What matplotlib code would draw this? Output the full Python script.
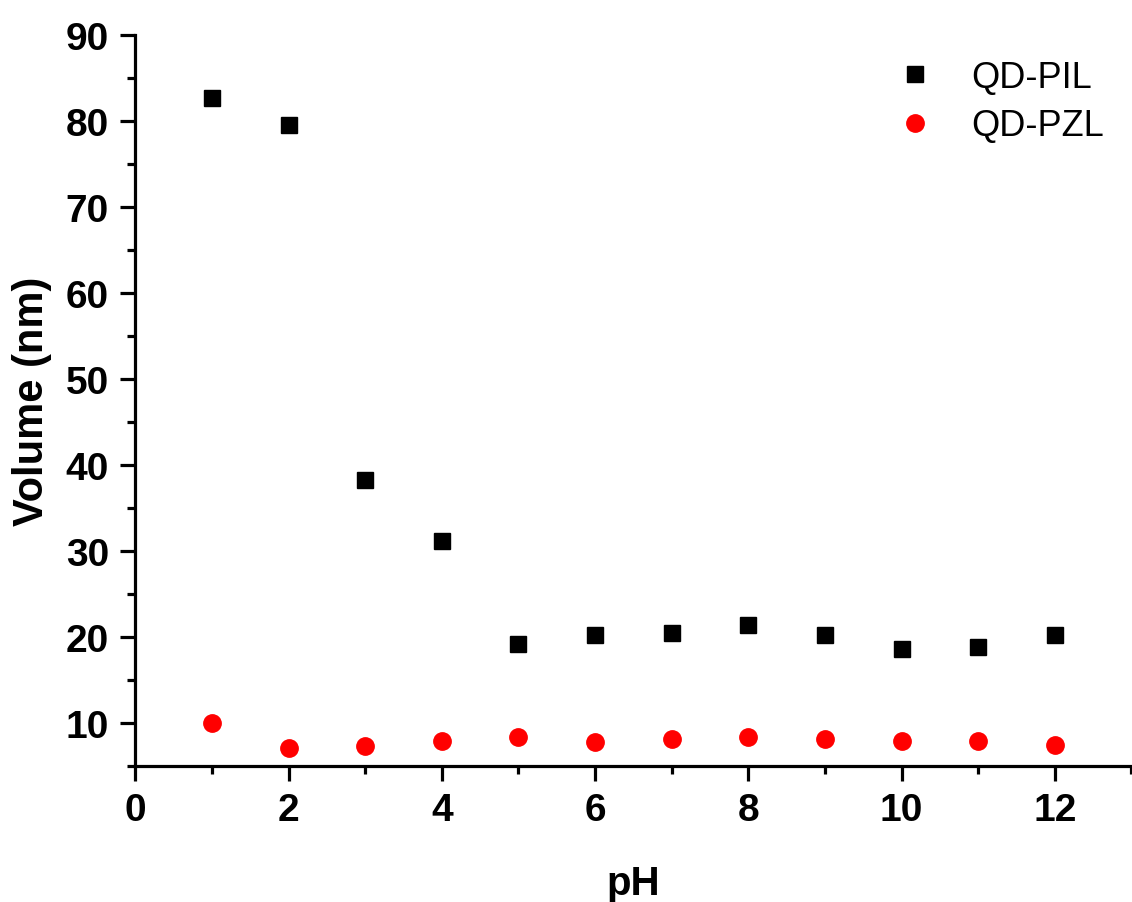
import numpy as np
import matplotlib as mpl, matplotlib.pyplot as plt
from matplotlib.ticker import MultipleLocator

mpl.rcParams.update({"font.family": "sans-serif", "font.sans-serif": ["Liberation Sans", "DejaVu Sans"],
                     "axes.spines.right": False, "axes.spines.top": False})

ph = [1, 2, 3, 4, 5, 6, 7, 8, 9, 10, 11, 12]
qd_pil = [82.7, 79.6, 38.2, 31.1, 19.2, 20.2, 20.4, 21.4, 20.2, 18.6, 18.8, 20.2]
qd_pzl = [10.0, 7.1, 7.3, 7.9, 8.3, 7.7, 8.1, 8.3, 8.1, 7.9, 7.9, 7.4]

fig = plt.figure(figsize=(11.32, 9.03), dpi=100)
ax = fig.add_axes([0.1195, 0.151, 0.88, 0.809])

ax.plot(ph, qd_pil, ls="none", marker="s", ms=11.5, color="black", label="QD-PIL")
ax.plot(ph, qd_pzl, ls="none", marker="o", ms=12.5, color="red", label="QD-PZL")

ax.set_xlim(0, 13)
ax.set_ylim(5, 90)
ax.xaxis.set_major_locator(MultipleLocator(2))
ax.xaxis.set_minor_locator(MultipleLocator(1))
ax.yaxis.set_minor_locator(MultipleLocator(5))
ax.set_yticks(range(10, 91, 10))

for s in ["left", "bottom"]:
    ax.spines[s].set_linewidth(2.3)
ax.tick_params(which="major", length=11, width=2.3, direction="out", labelsize=28, pad=8)
ax.tick_params(which="minor", length=6, width=2.3, direction="out")
for lab in ax.get_xticklabels() + ax.get_yticklabels():
    lab.set_fontweight("bold")

ax.set_xlabel("pH", fontsize=29, fontweight="bold", labelpad=26)
ax.set_ylabel("Volume (nm)", fontsize=30, fontweight="bold", labelpad=10)

leg = ax.legend(loc="upper left", frameon=False, fontsize=26, handlelength=1.0, handletextpad=1.08,
                bbox_to_anchor=(0.792, 0.933), bbox_transform=fig.transFigure,
                borderaxespad=0, borderpad=0, labelspacing=0.38)

fig.savefig("out.png", dpi=100)
